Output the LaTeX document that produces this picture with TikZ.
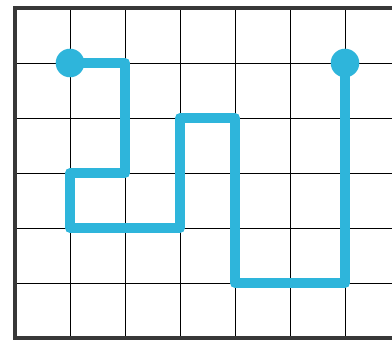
\documentclass[tikz,border=0pt]{standalone}
\usepackage{tkz-euclide}
\definecolor{PathClr}{rgb}{0.18,0.71,0.86}
\definecolor{FrameClr}{rgb}{0.22,0.22,0.22}

\begin{document}
\begin{tikzpicture}
\useasboundingbox (-0.2727,-0.0727) rectangle (6.8545,6.1455);

\tkzDefPoints{1/5/A0,2/5/A1,2/3/A2,1/3/A3,1/2/A4,3/2/A5,3/4/A6,4/4/A7,4/1/A8,6/1/A9,6/5/A10}

% grid
\draw[line width=0.5pt,color=black] (0,0) grid (7.5,6);

% frame
\draw[line width=2.4pt,color=FrameClr] (7.5,6) -- (0,6) -- (0,0) -- (7.5,0);

% path
\tkzDrawPolySeg[line width=5.2pt,color=PathClr,line join=round](A0,A1,A2,A3,A4,A5,A6,A7,A8,A9,A10)

\fill[PathClr] (A0) circle (0.26);
\fill[PathClr] (A10) circle (0.26);

\end{tikzpicture}
\end{document}
